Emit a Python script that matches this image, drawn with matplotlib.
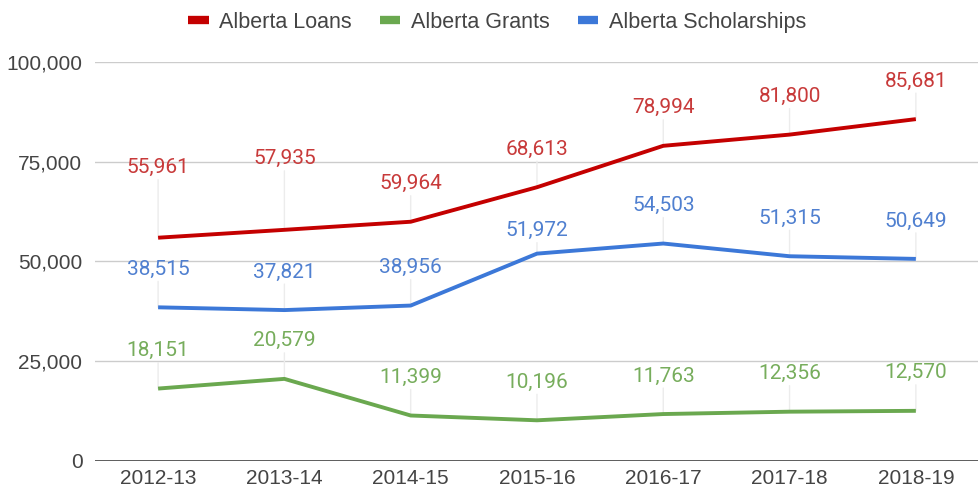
import numpy as np
import matplotlib.pyplot as plt
from matplotlib.ticker import FuncFormatter

plt.rcParams['font.family'] = ['Liberation Sans', 'DejaVu Sans']

years = ['2012-13', '2013-14', '2014-15', '2015-16', '2016-17', '2017-18', '2018-19']
loans = [55961, 57935, 59964, 68613, 78994, 81800, 85681]
grants = [18151, 20579, 11399, 10196, 11763, 12356, 12570]
scholarships = [38515, 37821, 38956, 51972, 54503, 51315, 50649]

# (name, values, line colour, label colour)
series = [
    ('Alberta Loans', loans, '#c40000', '#c83a3a'),
    ('Alberta Grants', grants, '#6aa84f', '#77ad5c'),
    ('Alberta Scholarships', scholarships, '#3c78d8', '#5080d0'),
]

# label offset above the point in pixels (a few are pushed up to avoid clashes)
base_off = 38
extra_off = {('Alberta Loans', 0): 32, ('Alberta Loans', 1): 33,
             ('Alberta Scholarships', 3): -15}

fig = plt.figure(figsize=(9.79, 4.96), dpi=100)
ax = fig.add_axes([0.097, 0.0706, 0.903, 0.8044])

x = np.arange(len(years))
for name, vals, col, _ in series:
    ax.plot(x, vals, color=col, linewidth=2.8, label=name, zorder=3,
            solid_capstyle='butt')

ax.set_xlim(-0.5, len(years) - 0.5)
ax.set_ylim(0, 100000)
ax.set_yticks([0, 25000, 50000, 75000, 100000])
ax.yaxis.set_major_formatter(FuncFormatter(lambda v, p: f'{int(v):,}'))
ax.set_xticks(x)
ax.set_xticklabels(years)

ax.grid(axis='y', color='#cccccc', linewidth=1)
ax.set_axisbelow(True)
for s in ['top', 'right', 'left', 'bottom']:
    ax.spines[s].set_visible(False)
ax.axhline(0, color='#444444', linewidth=1.2, zorder=2)
ax.tick_params(axis='both', length=0, labelsize=15, colors='#444444')
ax.tick_params(axis='y', pad=9)
ax.tick_params(axis='x', pad=6)

# value labels with faint leader lines
px2pt = 72 / fig.dpi
for name, vals, col, tcol in series:
    for i, v in enumerate(vals):
        off = base_off + extra_off.get((name, i), 0)
        ax.annotate('', xy=(i, v), xytext=(0, (off - 12) * px2pt),
                    textcoords='offset points',
                    arrowprops=dict(arrowstyle='-', color='#ececec', lw=1,
                                    shrinkA=0, shrinkB=0), zorder=1)
        ax.annotate(f'{v:,}', xy=(i, v), xytext=(0, off * px2pt),
                    textcoords='offset points', ha='center', va='center',
                    color=tcol, fontsize=15, family=['Roboto', 'DejaVu Sans'],
                    zorder=4)

leg = fig.legend(loc='upper center', bbox_to_anchor=(0.508, 1.015), ncol=3,
                 frameon=False, fontsize=15.5, handlelength=0.95,
                 handletextpad=0.5, columnspacing=1.3)
for h in leg.get_lines():
    h.set_linewidth(6)
for t in leg.get_texts():
    t.set_color('#444444')

fig.savefig('out.png', dpi=100)
